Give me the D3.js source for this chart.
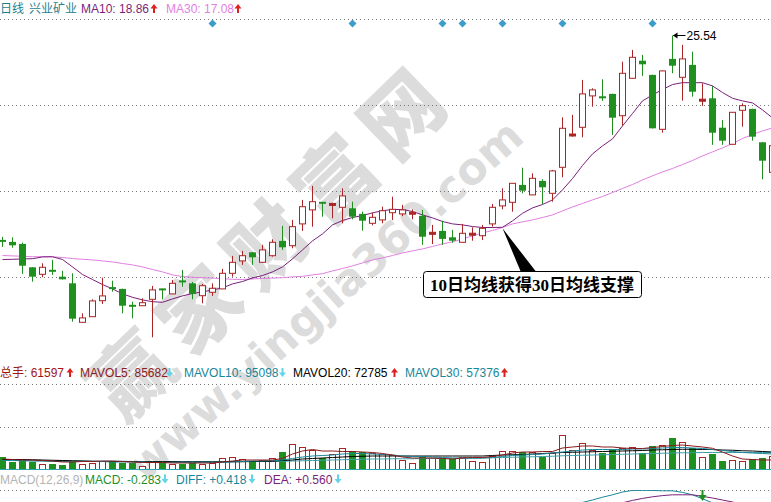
<!DOCTYPE html>
<html><head><meta charset="utf-8">
<script src="https://cdn.jsdelivr.net/npm/d3@7"></script>
<style>html,body{margin:0;padding:0;background:#fff;overflow:hidden}svg{display:block}
text{font-family:"Liberation Sans",Arial,"Noto Sans CJK SC",sans-serif}</style>
</head><body><svg id="c" width="771" height="502"></svg>
<script>
// ---------------- data ----------------
const stockName = "兴业矿业";
const periodName = "日线";
const opens = [15.28,15.22,15.12,13.95,13.60,13.82,13.48,13.15,11.20,11.48,
12.28,12.95,12.87,12.07,12.03,12.35,12.87,12.62,13.27,13.15,
12.53,12.70,12.87,13.65,14.27,14.70,14.20,14.53,15.27,15.03,
16.12,16.82,17.20,17.07,16.95,16.90,16.62,16.15,16.32,16.68,
16.62,16.64,16.52,15.63,15.77,15.45,15.20,15.59,15.53,16.12,
17.02,17.20,18.07,17.57,18.27,17.65,18.95,20.53,20.95,22.52,
22.47,22.62,21.53,23.40,24.28,23.57,20.85,24.37,23.45,24.07,
22.28,22.40,20.93,20.10,21.80,21.87,20.20,18.70];
const highs = [15.47,15.45,15.18,13.96,14.15,14.32,13.77,13.65,11.65,12.35,
13.43,13.28,12.88,12.23,12.40,13.02,12.88,13.32,13.82,13.22,
13.12,13.15,13.87,14.52,14.77,14.71,15.07,15.35,16.02,16.32,
17.32,18.02,17.21,17.18,17.90,17.23,16.73,16.68,16.98,17.48,
17.07,16.85,16.82,16.07,16.28,15.82,16.12,15.95,16.07,17.12,
17.90,18.16,18.93,18.65,18.35,18.82,21.45,21.57,23.32,22.90,
23.35,22.63,24.23,24.82,24.57,23.58,23.78,25.54,25.07,24.73,
23.15,23.02,21.32,21.71,22.15,21.88,20.21,20.04];
const lows = [14.97,14.93,13.62,13.23,13.45,13.57,13.34,11.23,11.19,11.47,
12.12,12.73,11.65,11.40,12.02,10.45,12.35,12.61,12.98,12.35,
12.15,12.52,12.86,13.48,14.07,14.07,14.19,14.48,14.82,14.90,
15.77,15.98,16.48,16.40,16.15,16.35,15.78,16.05,16.15,16.31,
16.51,16.35,15.07,15.11,15.07,15.18,15.19,15.28,15.31,15.98,
16.85,16.73,17.65,17.56,17.10,17.23,18.45,20.48,20.45,21.98,
22.27,20.57,21.02,23.39,23.52,20.89,20.68,23.65,22.28,22.48,
22.02,20.07,20.07,20.09,20.98,20.28,18.35,18.69];
const closes = [15.26,15.05,14.03,13.48,13.95,13.73,13.35,11.38,11.42,12.27,
12.52,12.87,12.03,11.98,12.18,12.82,12.82,13.15,13.22,12.62,
13.03,12.90,13.65,14.20,14.53,14.45,14.82,15.20,14.95,15.98,
16.98,17.23,17.15,17.12,17.52,16.48,16.28,16.45,16.78,16.85,
16.82,16.67,15.48,15.67,15.37,15.28,15.65,15.62,15.90,16.95,
17.32,18.15,17.78,18.40,17.95,18.77,20.90,20.60,22.62,22.82,
22.43,21.43,23.65,24.45,24.10,20.90,23.77,24.03,24.37,22.73,
22.33,20.68,20.28,21.70,22.03,20.48,19.28,20.03];
const ma10 = [14.34,14.35,14.37,14.38,14.47,14.48,14.34,13.97,13.59,13.34,
13.09,12.87,12.62,12.45,12.32,12.23,12.20,12.37,12.52,12.64,
12.72,12.82,12.92,13.12,13.24,13.42,13.54,13.72,13.97,14.37,
14.82,15.27,15.62,16.07,16.29,16.44,16.54,16.67,16.78,16.84,
16.84,16.74,16.57,16.42,16.24,16.12,16.07,15.99,15.94,15.94,
15.95,16.27,16.65,16.92,17.09,17.32,17.82,18.39,19.04,19.62,
20.02,20.37,21.02,21.64,22.27,22.57,22.84,23.09,23.18,23.18,
23.18,23.02,22.69,22.40,22.27,22.17,21.82,21.42];
const ma30 = [14.54,14.52,14.50,14.48,14.48,14.47,14.44,14.39,14.35,14.32,
14.27,14.22,14.14,14.07,13.97,13.84,13.72,13.57,13.49,13.45,
13.43,13.41,13.38,13.35,13.34,13.37,13.39,13.41,13.43,13.47,
13.50,13.57,13.63,13.77,13.89,14.02,14.17,14.32,14.42,14.54,
14.67,14.77,14.87,14.99,15.12,15.22,15.37,15.52,15.67,15.79,
15.94,16.12,16.22,16.32,16.44,16.57,16.77,16.97,17.14,17.32,
17.49,17.69,17.89,18.09,18.32,18.52,18.72,18.89,19.09,19.29,
19.52,19.72,19.92,20.14,20.39,20.59,20.77,20.92];
const volumes = [46800,29200,36000,29200,18800,20000,16000,33200,20000,22800,
33200,29200,22800,22800,13200,29200,25200,18800,20000,22800,
20000,25200,42800,46800,38800,29200,36000,42800,69200,100000,
86800,76000,42800,60000,82800,73200,69200,62800,60000,56000,
36000,22800,52000,42800,42800,40000,49200,33200,26800,53200,
72000,72000,68000,66800,49200,65200,136000,76000,102800,76000,
62800,78800,82800,86800,65200,92000,96000,122800,106800,82800,
46800,60000,32000,36000,32000,38800,45200,53200];
const mavol5 = [40000,38000,36000,36000,34000,32000,28000,28000,30000,30000,
32000,32000,30000,28000,26000,26000,26000,24000,24000,24000,
24000,24000,28000,32000,36000,36000,36000,36000,42000,60000,
72000,78000,72000,72000,70000,70000,68000,66000,62000,56000,
48000,44000,44000,44000,42000,40000,44000,46000,46000,50000,
56000,64000,68000,68000,70000,70000,84000,88000,92000,92000,
88000,88000,84000,82000,82000,86000,90000,94000,96000,92000,
88000,82800,68000,52000,40000,38000,36000,36000];
const mavol10 = [34000,34000,34000,32000,32000,30000,30000,30000,30000,30000,
30000,28000,28000,28000,28000,26000,26000,26000,26000,26000,
26000,26000,26000,28000,30000,32000,32000,34000,36000,42000,
48000,52000,54000,56000,60000,62000,62000,60000,58000,56000,
52000,50000,50000,48000,46000,44000,44000,44000,44000,46000,
50000,54000,56000,58000,60000,64000,68000,72000,76000,78000,
78000,78000,78000,80000,80000,82000,84000,86000,86000,84000,
82000,78000,74000,70000,66000,64000,62000,60000];
const mavol20 = [38000,38000,38000,37000,36000,35000,34000,33000,32000,31000,
30000,30000,30000,30000,29000,29000,29000,29000,28000,28000,
28000,28000,28000,29000,29000,30000,30000,31000,34000,36000,
40000,42000,44000,46000,48000,50000,51000,52000,52000,52000,
52000,52000,52000,52000,52000,52000,52000,52000,52000,54000,
56000,57000,58000,60000,62000,64000,66000,67000,68000,69000,
70000,71000,72000,73000,74000,76000,77000,78000,79000,79000,
78000,78000,76000,75000,73000,72000,70000,68000];
const mavol30 = [34000,34000,33000,33000,33000,32000,32000,32000,32000,31000,
31000,31000,31000,30000,30000,30000,30000,30000,30000,30000,
30000,30000,30000,30000,30000,30000,30000,30000,31000,32000,
33000,34000,35000,36000,37000,38000,39000,40000,40000,41000,
41000,41000,42000,42000,42000,43000,43000,43000,44000,45000,
46000,47000,48000,49000,50000,51000,53000,54000,55000,56000,
57000,58000,59000,60000,61000,62000,63000,64000,65000,65000,
66000,66000,66000,66000,66000,66000,66000,66000];
const diffStart = 58;
const diffVals = [0.44,0.50,0.57,0.63,0.70,0.74,0.74,0.74,0.73,0.73,0.69,0.63,0.53,0.43];
const deaStart = 62;
const deaVals = [0.43,0.49,0.54,0.58,0.61,0.63,0.63,0.63,0.59,0.55,0.50,0.45,0.40];
const signalDays = [21,35,44,46,50,56,65];
const peakDay = 67, peakLabel = "25.54";
const crossDay = 50;      // MA10 meets MA30
const macdSignalDay = 70;
const gridPrices = [22.065, 17.765, 13.465];
const mainLegend = [
  {t:"MA10: 18.86", c:"#7b1f7b", arrow:"up"},
  {t:"MA30: 17.08", c:"#e27fe2", arrow:"up"}];
const volLegend = [
  {t:"总手: 61597", c:"#a01515", arrow:"up"},
  {t:"MAVOL5: 85682", c:"#8b1a1a", arrow:"down"},
  {t:"MAVOL10: 95098", c:"#17879a", arrow:"down"},
  {t:"MAVOL20: 72785", c:"#000000", arrow:"up"},
  {t:"MAVOL30: 57376", c:"#17879a", arrow:"up"}];
const macdLegend = [
  {t:"MACD(12,26,9)", c:"#b4b4b4", arrow:null},
  {t:"MACD: -0.283", c:"#1f8f1f", arrow:"down"},
  {t:"DIFF: +0.418", c:"#17879a", arrow:"down"},
  {t:"DEA: +0.560", c:"#7b1f7b", arrow:"down"}];
const annotationText = "10日均线获得30日均线支撑";
const watermarkCN = "赢家财富网";
const watermarkURL = "www.yingjia360.com";

// ---------------- drawing ----------------
const W = 771, H = 502;
const RED = "#aa2525", GREEN = "#1f8f1f";
const svg = d3.select("#c");
svg.append("rect").attr("width", W).attr("height", H).attr("fill", "#fff");

const days = d3.range(opens.length);
const x = d3.scaleBand().domain(days).range([-2.5, 777.5]).paddingInner(0.3).paddingOuter(0.15);
const cx = i => x(i) + x.bandwidth() / 2;
const y = d3.scaleLinear().domain([10, 26]).range([346.3, 26.3]);
const yv = d3.scaleLinear().domain([0, 336000]).range([469, 385]);
const ym = d3.scaleLinear().domain([0, 1]).range([520, 480]);

const defs = svg.append("defs");
defs.append("clipPath").attr("id", "cm").append("rect").attr("x", 0).attr("y", 20).attr("width", W).attr("height", 342);
defs.append("clipPath").attr("id", "cv").append("rect").attr("x", 0).attr("y", 385).attr("width", W).attr("height", 85);
defs.append("clipPath").attr("id", "cd").append("rect").attr("x", 0).attr("y", 490).attr("width", W).attr("height", 12);

// watermark
const wm = svg.append("g").attr("fill", "#c6c6c6").attr("opacity", 0.6);
wm.append("text").attr("transform", "translate(268,236) rotate(-44)")
  .attr("text-anchor", "middle").attr("dominant-baseline", "central")
  .style("font-family", "'Noto Sans CJK SC'").style("font-weight", 900)
  .style("font-size", "80px").style("letter-spacing", "14px").text(watermarkCN);
wm.append("text").attr("transform", "translate(325,300) rotate(-42)")
  .attr("text-anchor", "middle").attr("dominant-baseline", "central")
  .style("font-family", "'DejaVu Sans'").style("font-weight", 700)
  .style("font-size", "44px").text(watermarkURL);

// dotted grid lines
const dotted = (yy) => svg.append("line").attr("x1", 0).attr("x2", W).attr("y1", yy).attr("y2", yy)
  .attr("stroke", "#777").attr("stroke-dasharray", "1,3");
dotted(19.5);
gridPrices.forEach(p => dotted(Math.round(y(p)) + 0.5));
dotted(384.5); dotted(427.5); dotted(490.5);

// ---- main panel ----
const gm = svg.append("g").attr("clip-path", "url(#cm)");
const isUp = i => closes[i] > opens[i];
const lineGen = arr => d3.line().x((d, i) => cx(i)).y(d => y(d))(arr);
gm.append("path").attr("d", lineGen(ma30)).attr("fill", "none").attr("stroke", "#e27fe2").attr("stroke-width", 1);
gm.append("path").attr("d", lineGen(ma10)).attr("fill", "none").attr("stroke", "#7b1f7b").attr("stroke-width", 1);

const cg = gm.selectAll("g.c").data(days).join("g");
cg.append("line")
  .attr("x1", i => cx(i)).attr("x2", i => cx(i))
  .attr("y1", i => y(highs[i])).attr("y2", i => y(lows[i]))
  .attr("stroke", i => isUp(i) ? RED : GREEN);
cg.append("rect")
  .attr("x", i => isUp(i) ? x(i) + 0.5 : x(i))
  .attr("width", i => isUp(i) ? x.bandwidth() - 1 : x.bandwidth())
  .attr("y", i => {
    const t = y(Math.max(opens[i], closes[i])), b = y(Math.min(opens[i], closes[i]));
    return (b - t < 2) ? (t + b) / 2 - 1 : t;
  })
  .attr("height", i => {
    const t = y(Math.max(opens[i], closes[i])), b = y(Math.min(opens[i], closes[i]));
    return Math.max(2, b - t);
  })
  .attr("fill", i => {
    const t = y(Math.max(opens[i], closes[i])), b = y(Math.min(opens[i], closes[i]));
    if (!isUp(i)) return GREEN;
    return (b - t < 3) ? RED : "#fff";
  })
  .attr("stroke", i => isUp(i) ? RED : "none")
  .attr("stroke-width", 1);

// signal diamonds
svg.selectAll("path.sig").data(signalDays).join("path")
  .attr("d", i => `M${cx(i)},${23.5 - 4}L${cx(i) + 4},23.5L${cx(i)},${23.5 + 4}L${cx(i) - 4},23.5Z`)
  .attr("fill", "#3e9ccb");

// peak label
{
  const px = cx(peakDay), py = y(highs[peakDay]);
  svg.append("line").attr("x1", px + 1).attr("x2", px + 13).attr("y1", py).attr("y2", py).attr("stroke", "#000");
  svg.append("path").attr("d", `M${px + 0.5},${py}L${px + 5},${py - 3}L${px + 5},${py + 3}Z`).attr("fill", "#000");
  svg.append("text").attr("x", px + 14).attr("y", py + 4.5).attr("font-size", 12).attr("fill", "#000").text(peakLabel);
}

// annotation
{
  const tx = cx(crossDay), ty = y(ma10[crossDay]) + 1;
  svg.append("path").attr("d", `M${tx},${ty}L${tx + 18},271L${tx + 33},271Z`).attr("fill", "#000");
  svg.append("rect").attr("x", 423.5).attr("y", 271.5).attr("width", 218).attr("height", 26).attr("rx", 3)
    .attr("fill", "#fff").attr("stroke", "#000");
  svg.append("text").attr("x", 430).attr("y", 291)
    .style("font-family", "'Liberation Serif','Noto Sans CJK SC',serif").style("font-weight", 700)
    .style("font-size", "17px").attr("fill", "#000").text(annotationText);
}

// legends
function arrow(g, ax, ay, dir) {
  const col = dir === "up" ? "#e02020" : "#62d4ea";
  if (dir === "up") {
    g.append("path").attr("d", `M${ax},${ay - 9}L${ax + 3.5},${ay - 4.5}L${ax + 1},${ay - 4.5}L${ax + 1},${ay}L${ax - 1},${ay}L${ax - 1},${ay - 4.5}L${ax - 3.5},${ay - 4.5}Z`).attr("fill", col);
  } else {
    g.append("path").attr("d", `M${ax},${ay}L${ax + 3.5},${ay - 4.5}L${ax + 1},${ay - 4.5}L${ax + 1},${ay - 9}L${ax - 1},${ay - 9}L${ax - 1},${ay - 4.5}L${ax - 3.5},${ay - 4.5}Z`).attr("fill", col);
  }
}
function legend(items, xs, axs, by) {
  const g = svg.append("g");
  items.forEach((it, k) => {
    g.append("text").attr("x", xs[k]).attr("y", by).attr("font-size", 12).attr("fill", it.c).text(it.t);
    if (it.arrow) arrow(g, axs[k], by, it.arrow);
  });
}
{
  const g = svg.append("g");
  g.append("text").attr("x", 0).attr("y", 13).attr("font-size", 12).attr("fill", "#1f7f8f")
    .style("font-family", "'Noto Sans CJK SC'").text(periodName);
  g.append("text").attr("x", 29).attr("y", 13).attr("font-size", 12).attr("fill", "#1f7f8f")
    .style("font-family", "'Noto Sans CJK SC'").text(stockName);
}
legend(mainLegend, [81, 166], [154, 238], 13);
legend(volLegend, [0, 80, 184, 293, 405], [70, 169.5, 282.5, 394.5, 504.5], 377);
legend(macdLegend, [0, 85, 176, 264], [0, 165, 252, 338], 483.5);

// ---- volume panel ----
const gv = svg.append("g").attr("clip-path", "url(#cv)");
gv.selectAll("rect.v").data(days).join("rect")
  .attr("x", i => isUp(i) ? x(i) + 0.5 : x(i))
  .attr("width", i => isUp(i) ? x.bandwidth() - 1 : x.bandwidth())
  .attr("y", i => Math.round(yv(volumes[i])) + (isUp(i) ? 0.5 : 0))
  .attr("height", i => 469 - Math.round(yv(volumes[i])))
  .attr("fill", i => isUp(i) ? "#fff" : GREEN)
  .attr("stroke", i => isUp(i) ? RED : "none");
const vline = arr => d3.line().x((d, i) => cx(i)).y(d => yv(d))(arr);
[[mavol30, "#3aa0a8"], [mavol20, "#000"], [mavol10, "#17879a"], [mavol5, "#8b1a1a"]].forEach(([a, c]) =>
  gv.append("path").attr("d", vline(a)).attr("fill", "none").attr("stroke", c).attr("stroke-width", 1));
svg.append("line").attr("x1", 0).attr("x2", W).attr("y1", 469.5).attr("y2", 469.5).attr("stroke", "#2aa7b0");

// ---- MACD panel ----
const gd = svg.append("g").attr("clip-path", "url(#cd)");
gd.append("path").attr("d", d3.line().x((d, k) => cx(diffStart + k)).y(d => ym(d))(diffVals))
  .attr("fill", "none").attr("stroke", "#17879a");
gd.append("path").attr("d", d3.line().x((d, k) => cx(deaStart + k)).y(d => ym(d))(deaVals))
  .attr("fill", "none").attr("stroke", "#7b1f7b");
{
  const ax = cx(macdSignalDay);
  gd.append("rect").attr("x", ax - 1).attr("y", 490).attr("width", 2).attr("height", 6).attr("fill", GREEN);
  gd.append("path").attr("d", `M${ax - 4},495L${ax + 4},495L${ax},501Z`).attr("fill", GREEN);
}
</script></body></html>
